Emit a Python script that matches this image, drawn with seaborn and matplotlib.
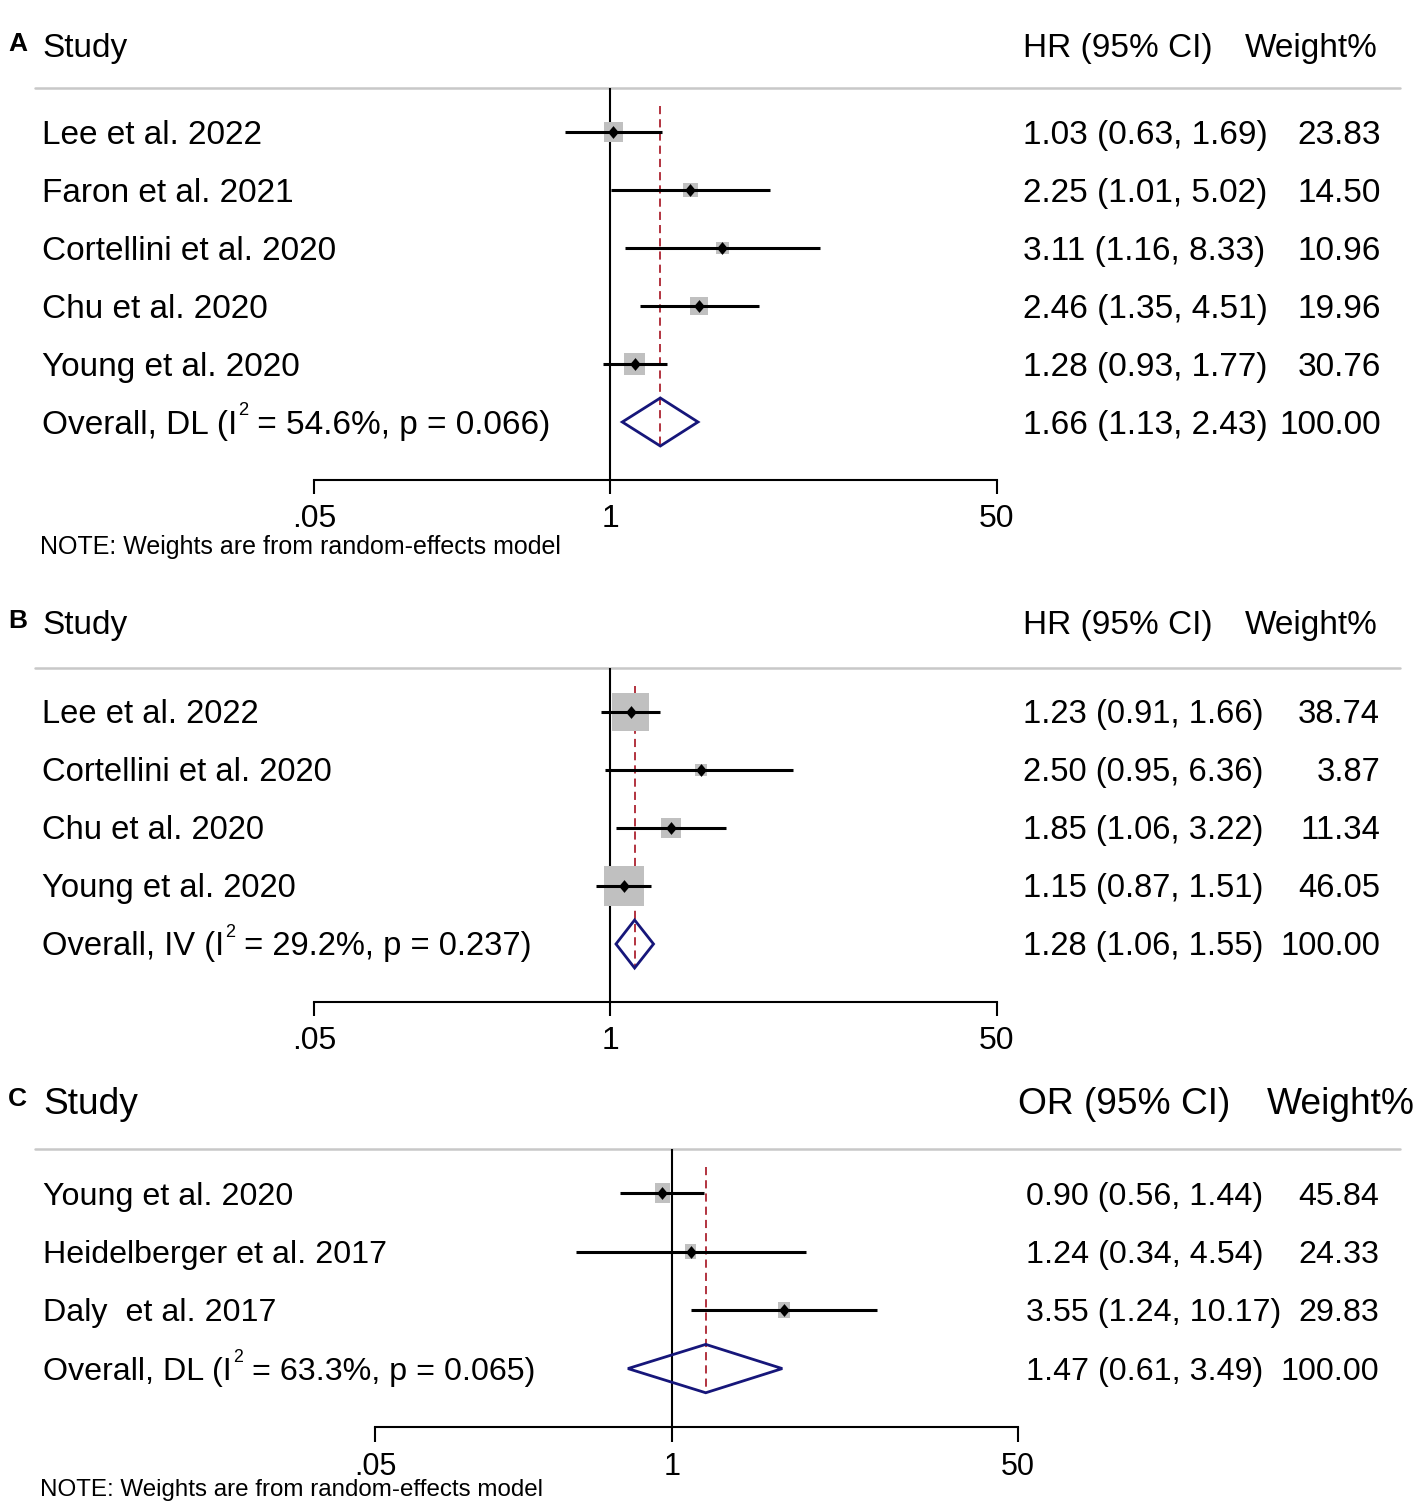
import numpy as np
import pandas as pd
import matplotlib
matplotlib.use("Agg")
import matplotlib.pyplot as plt
import seaborn as sns
from matplotlib.markers import MarkerStyle
from matplotlib.patches import Polygon
from matplotlib import transforms

# ---------------- data ----------------
a_studies = ["Lee et al. 2022", "Faron et al. 2021", "Cortellini et al. 2020",
             "Chu et al. 2020", "Young et al. 2020"]
a_est = [1.03, 2.25, 3.11, 2.46, 1.28]
a_lo = [0.63, 1.01, 1.16, 1.35, 0.93]
a_hi = [1.69, 5.02, 8.33, 4.51, 1.77]
a_wt = [23.83, 14.50, 10.96, 19.96, 30.76]
a_overall = [1.66, 1.13, 2.43]
a_overall_label = "Overall, DL (I² = 54.6%, p = 0.066)"
a_ci_text = ["1.03 (0.63, 1.69)", "2.25 (1.01, 5.02)", "3.11 (1.16, 8.33)",
             "2.46 (1.35, 4.51)", "1.28 (0.93, 1.77)", "1.66 (1.13, 2.43)"]
a_wt_text = ["23.83", "14.50", "10.96", "19.96", "30.76", "100.00"]

b_studies = ["Lee et al. 2022", "Cortellini et al. 2020", "Chu et al. 2020",
             "Young et al. 2020"]
b_est = [1.23, 2.50, 1.85, 1.15]
b_lo = [0.91, 0.95, 1.06, 0.87]
b_hi = [1.66, 6.36, 3.22, 1.51]
b_wt = [38.74, 3.87, 11.34, 46.05]
b_overall = [1.28, 1.06, 1.55]
b_overall_label = "Overall, IV (I² = 29.2%, p = 0.237)"
b_ci_text = ["1.23 (0.91, 1.66)", "2.50 (0.95, 6.36)", "1.85 (1.06, 3.22)",
             "1.15 (0.87, 1.51)", "1.28 (1.06, 1.55)"]
b_wt_text = ["38.74", "3.87", "11.34", "46.05", "100.00"]

c_studies = ["Young et al. 2020", "Heidelberger et al. 2017", "Daly  et al. 2017"]
c_est = [0.90, 1.24, 3.55]
c_lo = [0.56, 0.34, 1.24]
c_hi = [1.44, 4.54, 10.17]
c_wt = [45.84, 24.33, 29.83]
c_overall = [1.47, 0.61, 3.49]
c_overall_label = "Overall, DL (I² = 63.3%, p = 0.065)"
c_ci_text = ["0.90 (0.56, 1.44)", "1.24 (0.34, 4.54)", "3.55 (1.24, 10.17)",
             "1.47 (0.61, 3.49)"]
c_wt_text = ["45.84", "24.33", "29.83", "100.00"]

tick_values_ab = [0.05, 1, 50]
tick_values_c = [0.035, 1, 50]
tick_labels = [".05", "1", "50"]

# ---------------- style ----------------
sns.set_style("white")
plt.rcParams["font.family"] = ["Liberation Sans", "DejaVu Sans"]
plt.rcParams["text.color"] = "black"
plt.rcParams["xtick.color"] = "black"
plt.rcParams["xtick.bottom"] = True

W, H = 1417, 1504
fig = plt.figure(figsize=(W / 100, H / 100), dpi=100)
renderer = fig.canvas.get_renderer()


def fx(px):
    return px / W


def fy(py):
    return 1 - py / H


def ptext(x, yc, s, fs, ha="left", **kw):
    # place text with its cap-height centre at pixel yc
    base = yc + 0.35 * fs * 100 / 72
    fig.text(fx(x), fy(base), s, fontsize=fs, ha=ha, va="baseline",
             color="black", **kw)


square = MarkerStyle([(-0.5, -0.5), (0.5, -0.5), (0.5, 0.5), (-0.5, 0.5)])
rect_c = MarkerStyle([(-0.375, -0.5), (0.375, -0.5), (0.375, 0.5), (-0.375, 0.5)])
dmark = MarkerStyle([(0, 0.5), (0.42, 0), (0, -0.5), (-0.42, 0)])

panels = [
    dict(letter="A", studies=a_studies, est=a_est, lo=a_lo, hi=a_hi, wt=a_wt,
         overall=a_overall, olabel=a_overall_label, ci=a_ci_text, wtt=a_wt_text,
         head_eff="HR (95% CI)", top=88, bottom=480, left=314, right=997,
         xlim=(0.05, 50), ticks=tick_values_ab, head_y=45, letter_y=42,
         fs=24, hfs=24, tfs=23, k=3.9, marker=square, x_lab=42, x_ci=1023,
         x_wt=1381, x_head_eff=1023, x_head_wt=1378, note_y=545, note_fs=18,
         tick_len=10),
    dict(letter="B", studies=b_studies, est=b_est, lo=b_lo, hi=b_hi, wt=b_wt,
         overall=b_overall, olabel=b_overall_label, ci=b_ci_text, wtt=b_wt_text,
         head_eff="HR (95% CI)", top=668, bottom=1002, left=314, right=997,
         xlim=(0.05, 50), ticks=tick_values_ab, head_y=622, letter_y=619,
         fs=23.6, hfs=24, tfs=23, k=6.0, marker=square, x_lab=42, x_ci=1023,
         x_wt=1380, x_head_eff=1023, x_head_wt=1378, note_y=None, note_fs=18,
         tick_len=10),
    dict(letter="C", studies=c_studies, est=c_est, lo=c_lo, hi=c_hi, wt=c_wt,
         overall=c_overall, olabel=c_overall_label, ci=c_ci_text, wtt=c_wt_text,
         head_eff="OR (95% CI)", top=1149, bottom=1427, left=375, right=1018,
         xlim=(0.035, 50.1), ticks=tick_values_c, head_y=1101, letter_y=1097,
         fs=23.2, hfs=26.7, tfs=22, k=3.0, marker=rect_c, x_lab=43, x_ci=1026,
         x_wt=1379, x_head_eff=1018, x_head_wt=1415, note_y=1488, note_fs=17.4,
         tick_len=10.8),
]

for p in panels:
    n = len(p["studies"]) + 1
    top_row = -44 / 58
    ax = fig.add_axes([fx(p["left"]), fy(p["bottom"]),
                       (p["right"] - p["left"]) / W, (p["bottom"] - p["top"]) / H])
    ax.set_xscale("log")

    rows = np.arange(len(p["studies"]))
    orow = n - 1
    oest, olo, ohi = p["overall"]

    # reference line at 1
    ax.axvline(1, color="black", lw=1.5, zorder=1)
    # dashed overall line
    ax.plot([oest, oest], [-0.45, orow + 0.41], color="#b2333f", lw=1.4,
            dashes=(4.2, 2.6), zorder=2)
    # weight squares
    side_pt = p["k"] * np.sqrt(np.array(p["wt"])) * 0.72
    ax.scatter(p["est"], rows, marker=p["marker"], s=side_pt ** 2,
               color="#c0c0c0", linewidths=0, zorder=3)
    # confidence intervals
    ax.hlines(rows, p["lo"], p["hi"], color="black", lw=2.2, zorder=4)
    # point estimates
    df = pd.DataFrame({"est": p["est"], "row": rows})
    sns.scatterplot(data=df, x="est", y="row", ax=ax, marker=dmark, s=85,
                    color="black", linewidth=0, zorder=5, legend=False)
    # overall diamond
    hh = 0.414
    ax.add_patch(Polygon([(olo, orow), (oest, orow - hh), (ohi, orow),
                          (oest, orow + hh)], closed=True, fill=False,
                         edgecolor="#16167a", lw=2.0, zorder=4))

    ax.set_xlim(*p["xlim"])
    ax.set_ylim(n, top_row)
    ax.set_xlabel("")
    ax.set_ylabel("")
    ax.set_yticks([])
    ax.set_xticks(p["ticks"])
    ax.set_xticklabels(tick_labels)
    ax.minorticks_off()
    ax.tick_params(axis="x", which="major", bottom=True, direction="out",
                   length=p["tick_len"], width=1.5, labelsize=p["tfs"], pad=7,
                   color="black", labelcolor="black")
    for s in ["left", "right", "top"]:
        ax.spines[s].set_visible(False)
    ax.spines["bottom"].set_linewidth(1.5)
    ax.spines["bottom"].set_color("black")
    ax.patch.set_alpha(0)

    # grey header rule spanning the page
    bl = transforms.blended_transform_factory(fig.transFigure, ax.transData)
    ax.plot([fx(35), fx(1400)], [top_row, top_row], transform=bl,
            color="#c8c8c8", lw=1.8, clip_on=False, zorder=0)

    # row texts
    fs = p["fs"]
    off = transforms.ScaledTranslation(0, -0.35 * fs / 72, fig.dpi_scale_trans)
    tr = bl + off
    for i in range(n - 1):
        ax.text(fx(p["x_lab"]), i, p["studies"][i], transform=tr, fontsize=fs,
                ha="left", va="baseline", color="black")
    # overall label with a small raised "2"
    pre, post = p["olabel"].split("²")
    t1 = ax.text(fx(p["x_lab"]), orow, pre, transform=tr, fontsize=fs,
                 ha="left", va="baseline", color="black")
    w1 = t1.get_window_extent(renderer).width
    sup_fs = 0.55 * fs
    tr2 = tr + transforms.ScaledTranslation((w1 + 1) / 100, 0.55 * fs / 72,
                                            fig.dpi_scale_trans)
    t2 = ax.text(fx(p["x_lab"]), orow, "2", transform=tr2, fontsize=sup_fs,
                 ha="left", va="baseline", color="black")
    w2 = t2.get_window_extent(renderer).width
    tr3 = tr + transforms.ScaledTranslation((w1 + 1 + w2) / 100, 0,
                                            fig.dpi_scale_trans)
    ax.text(fx(p["x_lab"]), orow, post, transform=tr3, fontsize=fs,
            ha="left", va="baseline", color="black")

    for i in range(n):
        ax.text(fx(p["x_ci"]), i, p["ci"][i], transform=tr, fontsize=fs,
                ha="left", va="baseline", color="black")
        ax.text(fx(p["x_wt"]), i, p["wtt"][i], transform=tr, fontsize=fs,
                ha="right", va="baseline", color="black")

    # headers
    ptext(8, p["letter_y"], p["letter"], 19, fontweight="bold")
    ptext(p["x_lab"], p["head_y"], "Study", p["hfs"])
    ptext(p["x_head_eff"], p["head_y"], p["head_eff"], p["hfs"])
    ptext(p["x_head_wt"], p["head_y"], "Weight%", p["hfs"], ha="right")
    if p["note_y"] is not None:
        ptext(40, p["note_y"], "NOTE: Weights are from random-effects model",
              p["note_fs"])

fig.savefig("out.png", dpi=100, facecolor="white")
